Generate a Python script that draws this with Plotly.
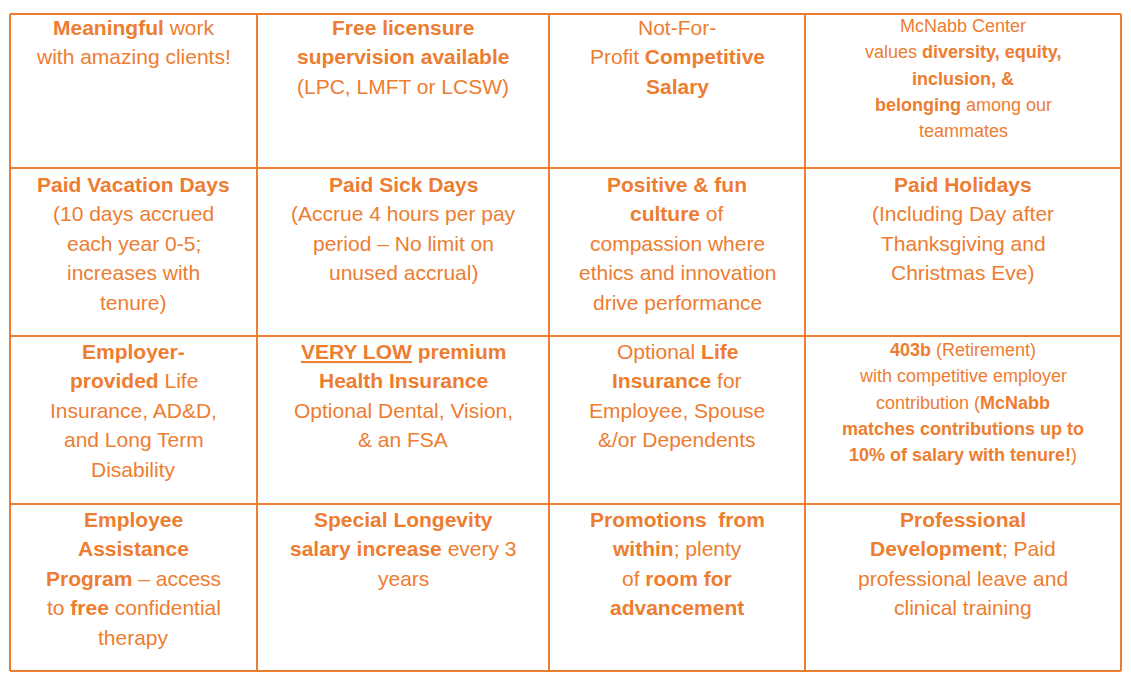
import plotly.graph_objects as go

ORANGE = "#ED7D31"

# cell texts, one list of lines per cell, row by row
row1 = [
    ["<b>Meaningful</b> work", "with amazing clients!"],
    ["<b>Free licensure</b>", "<b>supervision available</b>", "(LPC, LMFT or LCSW)"],
    ["Not-For-", "Profit <b>Competitive</b>", "<b>Salary</b>"],
    ["McNabb Center", "values <b>diversity, equity,</b>", "<b>inclusion, &amp;</b>",
     "<b>belonging</b> among our", "teammates"],
]
row2 = [
    ["<b>Paid Vacation Days</b>", "(10 days accrued", "each year 0-5;", "increases with", "tenure)"],
    ["<b>Paid Sick Days</b>", "(Accrue 4 hours per pay", "period – No limit on", "unused accrual)"],
    ["<b>Positive &amp; fun</b>", "<b>culture</b> of", "compassion where",
     "ethics and innovation", "drive performance"],
    ["<b>Paid Holidays</b>", "(Including Day after", "Thanksgiving and", "Christmas Eve)"],
]
row3 = [
    ["<b>Employer-</b>", "<b>provided</b> Life", "Insurance, AD&amp;D,", "and Long Term", "Disability"],
    ["<b><u>VERY LOW</u> premium</b>", "<b>Health Insurance</b>", "Optional Dental, Vision,", "&amp; an FSA"],
    ["Optional <b>Life</b>", "<b>Insurance</b> for", "Employee, Spouse", "&amp;/or Dependents"],
    ["<b>403b</b> (Retirement)", "with competitive employer", "contribution (<b>McNabb</b>",
     "<b>matches contributions up to</b>", "<b>10% of salary with tenure!</b>)"],
]
row4 = [
    ["<b>Employee</b>", "<b>Assistance</b>", "<b>Program</b> – access", "to <b>free</b> confidential", "therapy"],
    ["<b>Special Longevity</b>", "<b>salary increase</b> every 3", "years"],
    ["<b>Promotions  from</b>", "<b>within</b>; plenty", "of <b>room for</b>", "<b>advancement</b>"],
    ["<b>Professional</b>", "<b>Development</b>; Paid", "professional leave and", "clinical training"],
]
rows = [row1, row2, row3, row4]
small_cells = [(0, 3), (2, 3)]  # cells set in the smaller type

# grid geometry (page pixels)
col_edges = [10, 257, 549, 805, 1121]
row_edges = [14, 168, 336, 504, 671]
first_line = [27, 184, 351, 519]

# the page body adds an 8px margin, so the figure is shrunk and shifted to match
PAD = 8

fig = go.Figure()
fig.add_trace(go.Scatter(x=[500], y=[300], mode="markers", marker=dict(opacity=0),
                         hoverinfo="skip", showlegend=False))

for x in col_edges:
    fig.add_shape(type="line", x0=x, x1=x, y0=row_edges[0], y1=row_edges[-1],
                  line=dict(color=ORANGE, width=2))
for y in row_edges:
    fig.add_shape(type="line", x0=col_edges[0], x1=col_edges[-1], y0=y, y1=y,
                  line=dict(color=ORANGE, width=2))

for r, row in enumerate(rows):
    for c, lines in enumerate(row):
        small = (r, c) in small_cells
        size = 18 if small else 21
        step = 26.3 if small else 29.5
        y0 = first_line[r] - (1 if small else 0)
        xc = (col_edges[c] + col_edges[c + 1]) / 2
        for i, line in enumerate(lines):
            fig.add_annotation(x=xc, y=y0 + i * step, text=line, showarrow=False,
                               xanchor="center", yanchor="middle",
                               font=dict(family="Liberation Sans, Arial", size=size, color=ORANGE))

W, H = 1131 - 2 * PAD, 681 - 2 * PAD
fig.update_xaxes(range=[PAD, PAD + W], visible=False)
fig.update_yaxes(range=[PAD + H, PAD], visible=False)
fig.update_layout(width=W, height=H, margin=dict(l=0, r=0, t=0, b=0),
                  plot_bgcolor="white", paper_bgcolor="white")

fig.write_html("out.html")
